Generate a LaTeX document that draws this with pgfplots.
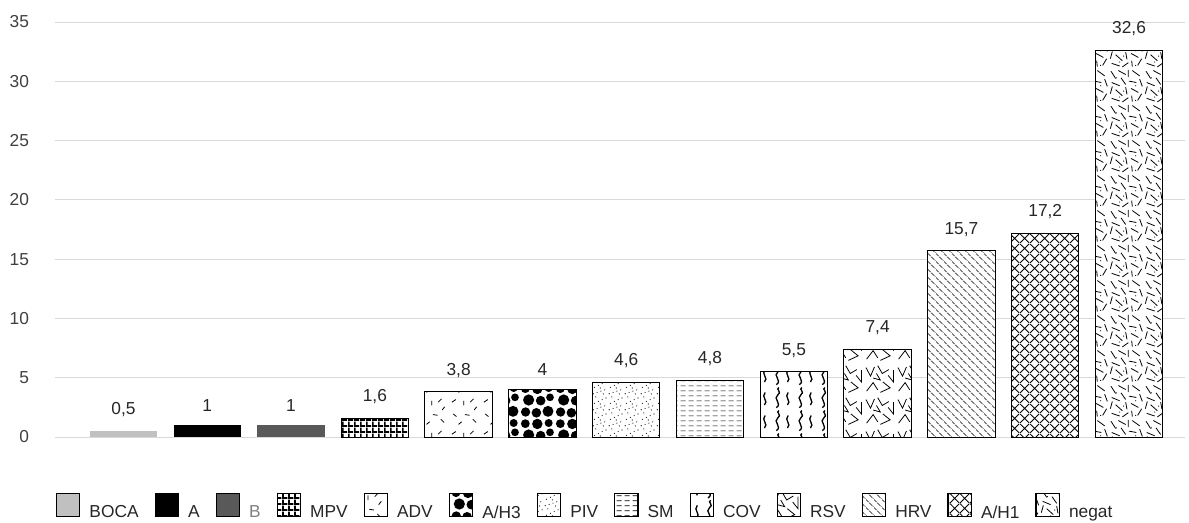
\documentclass[border=0pt]{standalone}
\usepackage{fontspec}
\setmainfont{Liberation Sans}
\usepackage{pgfplots}
\pgfplotsset{compat=1.18}
\usetikzlibrary{patterns}

\definecolor{gridgray}{HTML}{D9D9D9}
\definecolor{ticklab}{HTML}{404040}
\definecolor{lab}{HTML}{262626}
\definecolor{bocagray}{HTML}{C0C0C0}
\definecolor{bgray}{HTML}{595959}
\definecolor{blegend}{HTML}{808080}

\newcommand\seg[4]{\pgfpathmoveto{\pgfpoint{#1pt}{#2pt}}\pgfpathlineto{\pgfpoint{#3pt}{#4pt}}}
\newcommand\vshape[6]{\pgfpathmoveto{\pgfpoint{#1pt}{#2pt}}\pgfpathlineto{\pgfpoint{#3pt}{#4pt}}\pgfpathlineto{\pgfpoint{#5pt}{#6pt}}}
\newcommand\dotc[3]{\pgfpathcircle{\pgfpoint{#1pt}{#2pt}}{#3pt}}

\pgfdeclarepatternformonly{mpv}{\pgfpointorigin}{\pgfpoint{4.5pt}{4.5pt}}{\pgfpoint{4.5pt}{4.5pt}}{%
  \pgfpathrectangle{\pgfpointorigin}{\pgfpoint{4.5pt}{1.5pt}}%
  \pgfpathrectangle{\pgfpointorigin}{\pgfpoint{1.5pt}{4.5pt}}%
  \pgfusepath{fill}}

\pgfdeclarepatternformonly{adv}{\pgfpointorigin}{\pgfpoint{24pt}{24pt}}{\pgfpoint{24pt}{24pt}}{%
  \pgfsetlinewidth{0.6pt}%
  \seg{3}{19}{6}{21}\seg{12}{16.5}{12}{20}\seg{17}{19}{19.5}{21.5}\seg{4}{10}{6.5}{8}%
  \seg{13}{9.5}{16.5}{9}\seg{19}{6}{21.5}{3.5}\seg{8}{2}{10.5}{4}\seg{20}{13}{22}{15.5}%
  \pgfusepath{stroke}}

\pgfdeclarepatternformonly{ahthree}{\pgfpointorigin}{\pgfpoint{26pt}{26pt}}{\pgfpoint{26pt}{26pt}}{%
  \dotc{4.2}{4.5}{3.5}\dotc{12.3}{3.9}{3.6}\dotc{21}{5}{4.1}\dotc{6.5}{13.5}{4.2}%
  \dotc{15.5}{13}{3.6}\dotc{22.5}{15.5}{2.9}\dotc{4}{22}{3.3}\dotc{13}{21.8}{3.9}\dotc{21.5}{22.5}{3}%
  \pgfusepath{fill}}

\pgfdeclarepatternformonly{piv}{\pgfpointorigin}{\pgfpoint{12pt}{12pt}}{\pgfpoint{12pt}{12pt}}{%
  \dotc{1}{1}{0.45}\dotc{4}{2}{0.45}\dotc{7}{3}{0.45}\dotc{10}{4}{0.45}%
  \dotc{2}{6}{0.45}\dotc{5}{7.5}{0.45}\dotc{8}{9}{0.45}\dotc{11}{10.2}{0.45}%
  \dotc{3}{11}{0.45}\dotc{9}{0.8}{0.45}\dotc{6.5}{5.5}{0.45}%
  \pgfusepath{fill}}

\pgfdeclarepatternformonly{sm}{\pgfpointorigin}{\pgfpoint{6pt}{3.75pt}}{\pgfpoint{6pt}{3.75pt}}{%
  \pgfsetlinewidth{0.6pt}\seg{0.5}{1.9}{4.6}{1.9}\pgfusepath{stroke}}

\pgfdeclarepatternformonly{cov}{\pgfpointorigin}{\pgfpoint{17pt}{17pt}}{\pgfpoint{17pt}{17pt}}{%
  \pgfsetlinewidth{1pt}%
  \pgfpathmoveto{\pgfpoint{4pt}{1pt}}%
  \pgfpathcurveto{\pgfpoint{9pt}{4pt}}{\pgfpoint{1pt}{8pt}}{\pgfpoint{5pt}{10.5pt}}%
  \pgfpathcurveto{\pgfpoint{9pt}{13pt}}{\pgfpoint{3pt}{15pt}}{\pgfpoint{6pt}{16.3pt}}%
  \pgfpathmoveto{\pgfpoint{12.5pt}{3pt}}%
  \pgfpathcurveto{\pgfpoint{16pt}{6pt}}{\pgfpoint{9.5pt}{9pt}}{\pgfpoint{13pt}{12.5pt}}%
  \pgfusepath{stroke}}

\pgfdeclarepatternformonly{rsv}{\pgfpointorigin}{\pgfpoint{24pt}{24pt}}{\pgfpoint{24pt}{24pt}}{%
  \pgfsetlinewidth{0.6pt}%
  \vshape{1.5}{21}{5}{14.5}{8}{21.5}\vshape{10.5}{22.5}{14}{16.5}{19}{19.5}\vshape{2}{3}{7}{9.5}{10.5}{4}%
  \vshape{12.5}{2}{20}{5.5}{14.5}{10}\vshape{18.5}{15}{22.5}{10}{22.5}{19}\vshape{7}{13}{12.5}{11.5}{9.5}{16.5}%
  \pgfusepath{stroke}}

\pgfdeclarepatternformonly{hrv}{\pgfpointorigin}{\pgfpoint{5.8pt}{5.8pt}}{\pgfpoint{5.8pt}{5.8pt}}{%
  \pgfsetlinewidth{0.5pt}%
  \seg{0}{5.8}{2}{3.8}\seg{2.6}{3.2}{4.9}{0.9}\seg{5.4}{0.4}{5.8}{0}%
  \pgfusepath{stroke}}

\pgfdeclarepatternformonly{ahone}{\pgfpointorigin}{\pgfpoint{7.5pt}{7.5pt}}{\pgfpoint{7.5pt}{7.5pt}}{%
  \pgfsetlinewidth{0.7pt}%
  \seg{0}{0}{7.5}{7.5}\seg{0}{7.5}{7.5}{0}%
  \pgfusepath{stroke}}

\pgfdeclarepatternformonly{negat}{\pgfpointorigin}{\pgfpoint{26pt}{26pt}}{\pgfpoint{26pt}{26pt}}{%
  \pgfsetlinewidth{0.6pt}%
  \seg{1.5}{24}{5}{18.5}\seg{7}{24.5}{12.5}{21.5}\seg{14.5}{19.5}{14.5}{25}\seg{17.5}{24.5}{23}{20.5}%
  \seg{23}{18}{25}{12.5}\seg{2}{15.5}{8}{13}\seg{9}{19}{12.5}{14}\seg{15}{16.5}{20.5}{15.5}%
  \seg{1}{7}{2.5}{12.5}\seg{5}{10}{10}{5.5}\seg{12.5}{12}{13.5}{6.5}\seg{16.5}{11}{22}{8}%
  \seg{21.5}{2}{24.5}{7}\seg{2}{3.5}{8}{1.5}\seg{10}{0.8}{14.5}{4}\seg{17}{5.5}{17.5}{1}%
  \pgfusepath{stroke}%
  \dotc{20}{13}{0.45}\dotc{8}{4.5}{0.45}\dotc{5.5}{19}{0.45}\dotc{20}{2}{0.45}\dotc{11}{9}{0.45}%
  \pgfusepath{fill}}

\begin{document}
\begin{tikzpicture}
\path[use as bounding box] (-41.25pt,-63.75pt) rectangle (850.5pt,327.75pt);
\begin{axis}[
  at={(0,0)}, anchor=south west,
  scale only axis,
  width=847.5pt, height=311.25pt,
  xmin=-0.817, xmax=12.668,
  ymin=0, ymax=35,
  ytick={0,5,...,35},
  xtick=\empty,
  major tick length=0pt,
  axis line style={draw=none},
  ymajorgrids,
  grid style={color=gridgray, line width=0.75pt},
  ybar, bar width=50.6pt, bar shift=0pt,
  /pgf/number format/assume math mode=true,
  /pgf/number format/use comma,
  yticklabel style={font=\fontsize{13}{15}\selectfont, color=ticklab, anchor=east, xshift=-16pt},
  nodes near coords,
  nodes near coords style={font=\fontsize{13}{15}\selectfont, color=lab, yshift=7pt},
  legend columns=-1,
  legend style={draw=none, fill=none, at={(0.4695,0)}, anchor=center, yshift=-53.25pt,
    font=\fontsize{13}{15}\selectfont, text=lab,
    /tikz/every odd column/.append style={column sep=5pt},
    /tikz/every even column/.append style={column sep=10pt}},
  legend image code/.code={\draw[#1, line width=0.6pt] (0pt,-3pt) rectangle (17.5pt,14.5pt);},
]
\addplot[fill=bocagray, draw=none] coordinates {(0,0.5)}; \addlegendentry{BOCA}
\addplot[fill=black, draw=none] coordinates {(1,1)}; \addlegendentry{A}
\addplot[fill=bgray, draw=none] coordinates {(2,1)}; \addlegendentry{\textcolor{blegend}{B}}
\addplot[draw=black, line width=0.75pt, preaction={fill=white}, pattern=mpv] coordinates {(3,1.6)}; \addlegendentry{MPV}
\addplot[draw=black, line width=0.75pt, preaction={fill=white}, pattern=adv] coordinates {(4,3.8)}; \addlegendentry{ADV}
\addplot[draw=black, line width=0.75pt, preaction={fill=white}, pattern=ahthree] coordinates {(5,4)}; \addlegendentry{A/H3}
\addplot[draw=black, line width=0.75pt, preaction={fill=white}, pattern=piv] coordinates {(6,4.6)}; \addlegendentry{PIV}
\addplot[draw=black, line width=0.75pt, preaction={fill=white}, pattern=sm] coordinates {(7,4.8)}; \addlegendentry{SM}
\addplot[draw=black, line width=0.75pt, preaction={fill=white}, pattern=cov] coordinates {(8,5.5)}; \addlegendentry{COV}
\addplot[draw=black, line width=0.75pt, preaction={fill=white}, pattern=rsv] coordinates {(9,7.4)}; \addlegendentry{RSV}
\addplot[draw=black, line width=0.75pt, preaction={fill=white}, pattern=hrv] coordinates {(10,15.7)}; \addlegendentry{HRV}
\addplot[draw=black, line width=0.75pt, preaction={fill=white}, pattern=ahone] coordinates {(11,17.2)}; \addlegendentry{A/H1}
\addplot[draw=black, line width=0.75pt, preaction={fill=white}, pattern=negat] coordinates {(12,32.6)}; \addlegendentry{negat}
\end{axis}
\end{tikzpicture}
\end{document}
